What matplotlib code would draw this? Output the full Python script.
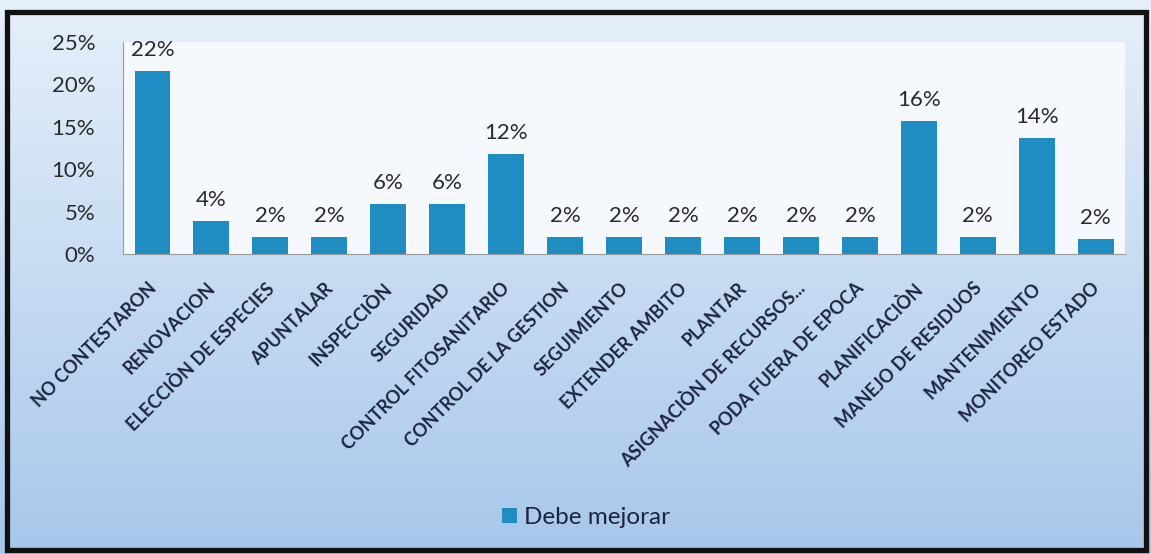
import numpy as np
import matplotlib
matplotlib.use('Agg')
import matplotlib.pyplot as plt
from matplotlib.patches import Rectangle
from matplotlib.ticker import PercentFormatter

# Categories and shares
categorias = ['NO CONTESTARON', 'RENOVACION', 'ELECCIÒN DE ESPECIES', 'APUNTALAR',
              'INSPECCIÒN', 'SEGURIDAD', 'CONTROL FITOSANITARIO', 'CONTROL DE LA GESTION',
              'SEGUIMIENTO', 'EXTENDER AMBITO', 'PLANTAR', 'ASIGNACIÒN DE RECURSOS...',
              'PODA FUERA DE EPOCA', 'PLANIFICACIÒN', 'MANEJO DE RESIDUOS',
              'MANTENIMIENTO', 'MONITOREO ESTADO']
valores = [0.216, 0.039, 0.0196, 0.0196, 0.059, 0.059, 0.118, 0.0196,
           0.0196, 0.0196, 0.0196, 0.0196, 0.0196, 0.157, 0.0196, 0.137, 0.0175]
etiquetas = ['22%', '4%', '2%', '2%', '6%', '6%', '12%', '2%', '2%', '2%', '2%',
             '2%', '2%', '16%', '2%', '14%', '2%']
serie = 'Debe mejorar'

plt.rcParams['font.family'] = ['Lato', 'DejaVu Sans']
texto = '#1c2440'
azul = '#1f8cc2'

fig = plt.figure(figsize=(11.51, 5.54), dpi=100)

# Background gradient (pale blue at top, deeper blue at bottom)
bg = fig.add_axes([0, 0, 1, 1], zorder=0)
grad = np.linspace(0, 1, 256).reshape(-1, 1)
top = np.array([0.90, 0.94, 0.98])
bottom = np.array([0.66, 0.78, 0.92])
img = top + (bottom - top) * grad[..., None]
bg.imshow(img, aspect='auto', extent=[0, 1, 0, 1])
bg.set_xlim(0, 1)
bg.set_ylim(0, 1)
bg.axis('off')

# Black frame
fig.patches.append(Rectangle((0.0061, 0.0072), 0.9896, 0.971, transform=fig.transFigure,
                             fill=False, edgecolor='#111111', linewidth=3.8, zorder=5))

ax = fig.add_axes([0.1069, 0.5415, 0.8707, 0.3825], zorder=1)
ax.set_facecolor('#f5f8fc')

x = np.arange(len(categorias))
bars = ax.bar(x, valores, width=0.61, color=azul, label=serie)

for xi, v, lab in zip(x, valores, etiquetas):
    ax.text(xi, v + 0.013, lab, ha='center', va='bottom', fontsize=16, color='#2a2a2a')

ax.set_xlim(-0.5, len(categorias) - 0.5)
ax.set_ylim(0, 0.25)
ax.set_yticks([0, 0.05, 0.10, 0.15, 0.20, 0.25])
ax.yaxis.set_major_formatter(PercentFormatter(1.0, decimals=0))
ax.tick_params(axis='y', length=0, pad=20, labelsize=16, labelcolor='#2a2a2a')
ax.tick_params(axis='x', length=0, pad=4)

ax.set_xticks(x)
ax.set_xticklabels(categorias, rotation=45, ha='right', va='center',
                   rotation_mode='anchor', fontsize=13, fontweight='bold', color=texto)
# push the rotated labels down so they start below the axis like the original
for t in ax.get_xticklabels():
    t.set_transform(t.get_transform() + matplotlib.transforms.ScaledTranslation(0.01, -0.26, fig.dpi_scale_trans))

for s in ['top', 'right']:
    ax.spines[s].set_visible(False)
ax.spines['left'].set_color('#9a9a9a')
ax.spines['bottom'].set_color('#9a9a9a')
ax.spines['left'].set_linewidth(0.8)
ax.spines['bottom'].set_linewidth(0.8)

fig.legend(handles=[bars], labels=[serie], loc='center', bbox_to_anchor=(0.509, 0.066),
           frameon=False, fontsize=17.5, handlelength=0.6, handleheight=0.6,
           handletextpad=0.3, labelcolor=texto)

fig.savefig('out.png', dpi=100)
